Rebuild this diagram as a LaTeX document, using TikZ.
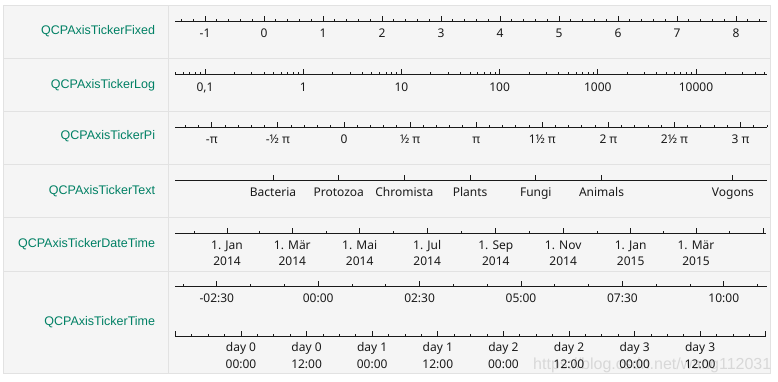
\documentclass[tikz,border=0pt]{standalone}
\usepackage{fontspec}
\setmainfont{Noto Sans}
\newfontfamily\lblfont{Liberation Sans}
\definecolor{cellbg}{HTML}{F5F5F5}
\definecolor{gridc}{HTML}{E2E2E2}
\definecolor{lblc}{RGB}{0,128,100}
\definecolor{tickc}{HTML}{1A1A1A}
\definecolor{wmark}{HTML}{D8D8D8}
\begin{document}
\begin{tikzpicture}[x=1pt,y=-1pt,
  axisln/.style={line width=1pt,tickc},
  majortk/.style={line width=1pt,tickc},
  minortk/.style={line width=1pt,tickc},
  tl/.style={font=\fontsize{12}{14}\selectfont,text=tickc,inner sep=0pt,anchor=base},
  rowlbl/.style={font=\lblfont\fontsize{12.5}{14}\selectfont,text=lblc,inner sep=0pt,anchor=base east},
  gridln/.style={line width=1pt,gridc}]
\useasboundingbox (0,0) rectangle (778,381);
\fill[white] (0,0) rectangle (778,381);
% table
\fill[cellbg] (3,5) rectangle (770,373);
\draw[gridln] (3,5) rectangle (770,373);
\draw[gridln] (168,5) -- (168,373);
\foreach \yy in {58,111,164,217,271} \draw[gridln] (3,\yy) -- (770,\yy);
% watermark
\node[font=\lblfont\fontsize{16}{18}\selectfont,text=wmark,inner sep=0pt,anchor=base west] (wm) at (533,369) {https://blog.csdn.net/wang112031};
% row labels
\node[rowlbl] (l1) at (155.3,34.5) {QCPAxisTickerFixed};
\node[rowlbl] (l2) at (155.3,88.8) {QCPAxisTickerLog};
\node[rowlbl] (l3) at (155.3,139.5) {QCPAxisTickerPi};
\node[rowlbl] (l4) at (155.3,194.5) {QCPAxisTickerText};
\node[rowlbl] (l5) at (155.3,247) {QCPAxisTickerDateTime};
\node[rowlbl] (l6) at (155.3,325) {QCPAxisTickerTime};
% ---------- Fixed
\draw[axisln] (175,21) -- (767,21);
\foreach \k in {-7,...,42} \draw[minortk] ({264+11.8*\k},21) -- ++(0,-2.5);
\foreach \v [count=\i] in {-1,0,1,2,3,4,5,6,7,8} {
  \draw[majortk] ({264+59*\v},21) -- ++(0,-5);
  \node[tl] (fx\i) at ({264+59*\v},37.3) {\v};
}
% ---------- Log
\draw[axisln] (175,74) -- (767,74);
\begin{scope}
\clip (174,60) rectangle (767.5,80);
\foreach \d in {-1,...,5} \foreach \m in {2,...,9}
  \draw[minortk] ({205+98.2*(\d+log10(\m))},74) -- ++(0,-2.5);
\end{scope}
\foreach \d in {0,...,5} \draw[majortk] ({205+98.2*\d},74) -- ++(0,-5);
\node[tl] (lg1) at (205,91.3) {0,1};
\node[tl] (lg2) at (303.2,91.3) {1};
\node[tl] (lg3) at (401.4,91.3) {10};
\node[tl] (lg4) at (499.6,91.3) {100};
\node[tl] (lg5) at (597.8,91.3) {1000};
\node[tl] (lg6) at (696,91.3) {10000};
% ---------- Pi
\draw[axisln] (175,127) -- (767,127);
\foreach \k in {-12,...,32} \draw[minortk] ({344+13.22*\k},127) -- ++(0,-2.5);
\foreach \h/\t [count=\i] in {-2/-π,-1/-½ π,0/0,1/½ π,2/π,3/1½ π,4/2 π,5/2½ π,6/3 π} {
  \draw[majortk] ({344+66.1*\h},127) -- ++(0,-5);
  \node[tl] (pi\i) at ({344+66.1*\h},143.3) {\t};
}
% ---------- Text
\draw[axisln] (175,180) -- (767,180);
\foreach \p/\t [count=\i] in {1/Bacteria,2/Protozoa,3/Chromista,4/Plants,5/Fungi,6/Animals,8/Vogons} {
  \draw[majortk] ({273+65.7*(\p-1)},180) -- ++(0,-5);
  \node[tl] (tx\i) at ({273+65.7*(\p-1)},196) {\t};
}
% ---------- DateTime
\draw[axisln] (175,233) -- (766,233);
\foreach \x in {194,259.6,326,393.5,461.5,529.5,597,663.4,729.7} \draw[minortk] (\x,233) -- ++(0,-2.5);
\draw[majortk] (763.6,233) -- ++(0,-5);
\foreach \x/\m/\yr [count=\i] in {227/1. Jan/2014,292.3/1. Mär/2014,359.7/1. Mai/2014,427.2/1. Jul/2014,495.8/1. Sep/2014,563.2/1. Nov/2014,630.7/1. Jan/2015,696/1. Mär/2015} {
  \draw[majortk] (\x,233) -- ++(0,-5);
  \node[tl] (dm\i) at (\x,249.5) {\m};
  \node[tl] (dy\i) at (\x,265) {\yr};
}
% ---------- Time (top)
\draw[axisln] (175,286) -- (767,286);
\foreach \k in {-1,...,16} \draw[minortk] ({216.8+33.8*\k},286) -- ++(0,-2.5);
\foreach \t [count=\i from 0] in {-02:30,00:00,02:30,05:00,07:30,10:00} {
  \draw[majortk] ({216.8+101.4*\i},286) -- ++(0,-5);
  \node[tl] (tt\i) at ({216.8+101.4*\i},302.3) {\t};
}
% ---------- Time (bottom)
\draw[axisln] (175,336) -- (766,336);
\foreach \k in {0,...,36} \draw[minortk] ({175.4+16.4*\k},336) -- ++(0,-2.5);
\foreach \k in {0,...,9} \draw[majortk] ({175.4+65.6*\k},336) -- ++(0,-5);
\foreach \dd/\hh [count=\i] in {day 0/00:00,day 0/12:00,day 1/00:00,day 1/12:00,day 2/00:00,day 2/12:00,day 3/00:00,day 3/12:00} {
  \node[tl] (bd\i) at ({175.4+65.6*\i},351.7) {\dd};
  \node[tl] (bh\i) at ({175.4+65.6*\i},368.2) {\hh};
}
\end{tikzpicture}
\end{document}
